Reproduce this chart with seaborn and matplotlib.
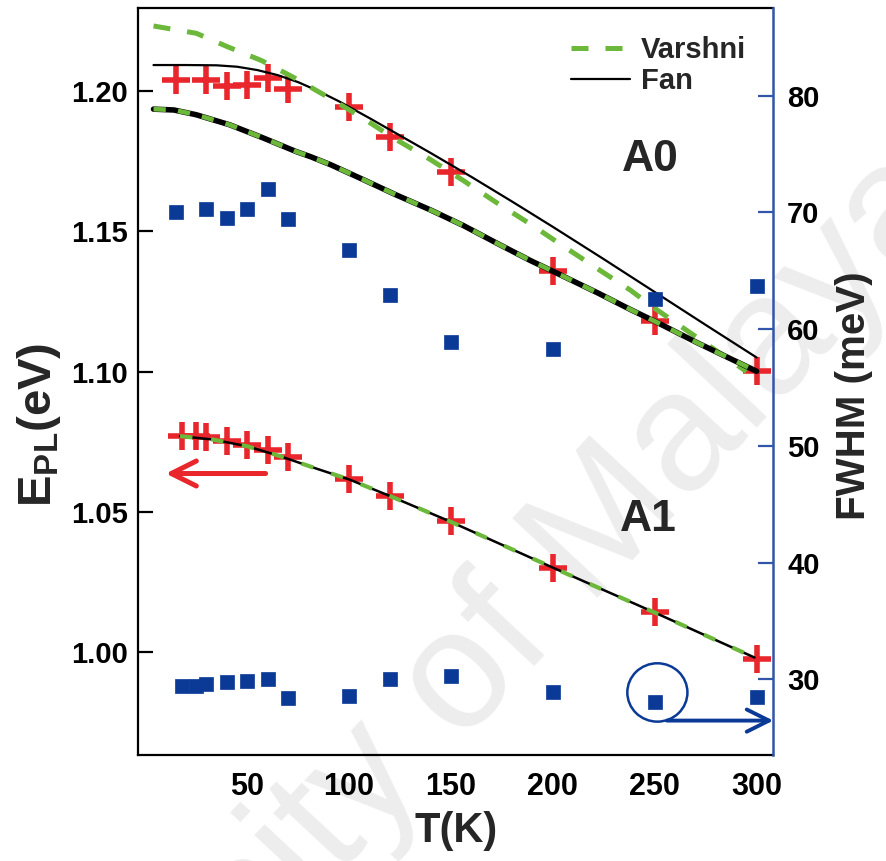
import matplotlib
matplotlib.use("Agg")
import matplotlib.pyplot as plt
import seaborn as sns
from matplotlib.lines import Line2D
from matplotlib.patches import Ellipse

# ---------------- data ----------------
T_A0 = [15, 30, 40, 50, 60, 70, 100, 120, 150, 200, 250, 300]
E_A0 = [1.2038, 1.2038, 1.2017, 1.2020, 1.2044, 1.2005, 1.1941, 1.1836,
        1.1712, 1.1357, 1.1179, 1.1001]
FWHM_A0 = [70.0, 70.3, 69.5, 70.3, 72.0, 69.4, 66.8, 62.9, 58.9, 58.3, 62.6, 63.7]

T_A1 = [18, 25, 30, 40, 50, 60, 70, 100, 120, 150, 200, 250, 300]
E_A1 = [1.0770, 1.0770, 1.0768, 1.0752, 1.0737, 1.0722, 1.0697, 1.0616,
        1.0557, 1.0468, 1.0302, 1.0143, 0.9976]
FWHM_A1 = [29.46, 29.46, 29.61, 29.74, 29.89, 30.03, 28.37, 28.6, 30.03,
           30.3, 28.89, 28.03, 28.46]

# fitted curves
T_fan_A0 = [4, 20, 35, 45, 55, 65, 75, 85, 95, 110, 125, 140, 160, 180, 200,
            225, 250, 275, 300]
E_fan_A0 = [1.2091, 1.2091, 1.2090, 1.2085, 1.2073, 1.2055, 1.2030, 1.1998,
            1.1962, 1.1902, 1.1840, 1.1778, 1.1693, 1.1605, 1.1515, 1.1400,
            1.1283, 1.1166, 1.1050]

T_var_A0 = [4, 25, 40, 57, 73, 90, 105, 123, 140, 156, 172, 190, 205, 220,
            238, 250, 265, 280, 295]
E_var_A0 = [1.2230, 1.2204, 1.2157, 1.2107, 1.2046, 1.1975, 1.1910, 1.1826,
            1.1754, 1.1680, 1.1603, 1.1520, 1.1447, 1.1375, 1.1290, 1.1225,
            1.1150, 1.1075, 1.1000]

T_low_A0 = [4, 14, 25, 41.5, 58, 74, 81, 91, 107, 123, 140, 156, 173, 189,
            200, 222, 238, 250, 271, 300]
E_low_A0 = [1.1934, 1.1931, 1.1914, 1.1878, 1.1831, 1.1783, 1.1765, 1.1736,
            1.1683, 1.1629, 1.1575, 1.1520, 1.1455, 1.1395, 1.1357, 1.1280,
            1.1221, 1.1179, 1.1102, 1.1001]

T_fit_A1 = [17, 33, 50, 66, 82.5, 100, 120, 149, 200, 250, 299]
E_fit_A1 = [1.0770, 1.0758, 1.0734, 1.0699, 1.0658, 1.0616, 1.0557, 1.0468,
            1.0302, 1.0142, 0.9982]

x_ticks = [50, 100, 150, 200, 250, 300]
yl_ticks = [1.00, 1.05, 1.10, 1.15, 1.20]
yr_ticks = [30, 40, 50, 60, 70, 80]

# ---------------- style ----------------
sns.set_theme(style="white")
plt.rcParams['font.family'] = ['Liberation Sans', 'DejaVu Sans']
plt.rcParams['font.weight'] = 'bold'
plt.rcParams['mathtext.fontset'] = 'custom'
plt.rcParams['mathtext.rm'] = 'Liberation Sans:bold'
plt.rcParams['mathtext.bf'] = 'Liberation Sans:bold'
plt.rcParams['mathtext.it'] = 'Liberation Sans:bold'

RED = '#e8262b'
BLUE = '#0b3a96'
SPINE_BLUE = '#3355a8'
GREEN = '#6cb83a'

fig = plt.figure(figsize=(8.86, 8.61), dpi=100)
fig.patch.set_facecolor('white')

# watermark (behind everything)
fig.text(0.462, 0.145, "University of Malaya", fontsize=122, color='#ededed',
         rotation=47, ha='center', va='center', fontweight='normal',
         rotation_mode='anchor', zorder=-5)

ax = fig.add_axes([0.1558, 0.1231, 0.7170, 0.8676])
ax.patch.set_alpha(0)

# red pluses (data)
sns.lineplot(x=T_A0, y=E_A0, ax=ax, estimator=None, sort=False,
             linestyle='none', marker='+', markersize=20, markeredgewidth=4,
             markeredgecolor=RED, color=RED, zorder=2)
sns.lineplot(x=T_A1, y=E_A1, ax=ax, estimator=None, sort=False,
             linestyle='none', marker='+', markersize=20, markeredgewidth=4,
             markeredgecolor=RED, color=RED, zorder=2)

# fit curves
sns.lineplot(x=T_fan_A0, y=E_fan_A0, ax=ax, estimator=None, sort=False,
             color='black', lw=1.6, zorder=3)
sns.lineplot(x=T_var_A0, y=E_var_A0, ax=ax, estimator=None, sort=False,
             color=GREEN, lw=3.6, linestyle=(0, (3.4, 3.4)), zorder=3)
sns.lineplot(x=T_low_A0, y=E_low_A0, ax=ax, estimator=None, sort=False,
             color='black', lw=4, zorder=3)
sns.lineplot(x=T_low_A0, y=E_low_A0, ax=ax, estimator=None, sort=False,
             color=GREEN, lw=3.4, linestyle=(0, (2.6, 2.6)), zorder=3)
sns.lineplot(x=T_fit_A1, y=E_fit_A1, ax=ax, estimator=None, sort=False,
             color='black', lw=1.8, zorder=3)
sns.lineplot(x=T_fit_A1, y=E_fit_A1, ax=ax, estimator=None, sort=False,
             color=GREEN, lw=3.0, linestyle=(0, (3.0, 4.5)), zorder=3)

ax.set_xlim(-3.6, 308.2)
ax.set_ylim(0.9635, 1.2294)
ax.set_xticks(x_ticks)
ax.set_xticklabels([str(v) for v in x_ticks])
ax.set_yticks(yl_ticks)
ax.set_yticklabels([f"{v:.2f}" for v in yl_ticks])
ax.tick_params(axis='both', direction='in', length=11, width=1.6, colors='black')
ax.tick_params(axis='x', labelsize=22, pad=12)
ax.tick_params(axis='y', labelsize=21, pad=7)
for s in ['left', 'top', 'bottom']:
    ax.spines[s].set_color('black')
    ax.spines[s].set_linewidth(1.6)
ax.spines['right'].set_visible(False)

ax.set_xlabel("T(K)", fontsize=30, fontweight='bold', labelpad=7)
ax.set_ylabel(r"E$_{\mathbf{PL}}$(eV)", fontsize=34, fontweight='bold')
ax.yaxis.set_label_coords(-0.118, 0.442)

# legend
handles = [Line2D([], [], color=GREEN, lw=3.6, linestyle=(0, (3.4, 3.4))),
           Line2D([], [], color='black', lw=1.6)]
leg = ax.legend(handles, ["Varshni", "Fan"], loc='upper right',
                bbox_to_anchor=(0.99, 0.99), frameon=False, fontsize=21,
                handlelength=2.0, handletextpad=0.4, labelspacing=0.1,
                borderpad=0.2)
for t in leg.get_texts():
    t.set_fontweight('bold')

ax.text(0.806, 0.797, "A0", transform=ax.transAxes, fontsize=32,
        fontweight='bold', ha='center', va='center')
ax.text(0.804, 0.315, "A1", transform=ax.transAxes, fontsize=32,
        fontweight='bold', ha='center', va='center')

# red arrow to the left axis
ax.annotate('', xy=(10, 1.0637), xytext=(59, 1.0637),
            arrowprops=dict(arrowstyle='->,head_length=0.9,head_width=0.45',
                            color=RED, lw=3.6, mutation_scale=20,
                            shrinkA=0, shrinkB=0))

# right axis: FWHM
ax2 = ax.twinx()
ax2.patch.set_alpha(0)
sns.lineplot(x=T_A0, y=FWHM_A0, ax=ax2, estimator=None, sort=False,
             linestyle='none', marker='s', markersize=10.5, color=BLUE,
             markeredgecolor=BLUE, markeredgewidth=0.5)
sns.lineplot(x=T_A1, y=FWHM_A1, ax=ax2, estimator=None, sort=False,
             linestyle='none', marker='s', markersize=10.5, color=BLUE,
             markeredgecolor=BLUE, markeredgewidth=0.5)
ax2.set_ylim(23.51, 87.52)
ax2.set_yticks(yr_ticks)
ax2.set_yticklabels([str(v) for v in yr_ticks])
ax2.tick_params(axis='y', direction='in', length=11, width=1.6,
                color=SPINE_BLUE, labelcolor='black', labelsize=21, pad=10)
for s in ['left', 'top', 'bottom']:
    ax2.spines[s].set_visible(False)
ax2.spines['right'].set_color(SPINE_BLUE)
ax2.spines['right'].set_linewidth(1.8)
ax2.set_ylabel("FWHM (meV)", fontsize=29, fontweight='bold')
ax2.yaxis.set_label_coords(1.097, 0.481)

# circle and arrow to right axis
ax2.add_patch(Ellipse((251.3, 28.87), width=29.5, height=5.0, fill=False,
                      edgecolor=BLUE, lw=1.8))
ax2.annotate('', xy=(308.2, 26.46), xytext=(256, 26.46),
             arrowprops=dict(arrowstyle='->,head_length=0.8,head_width=0.4',
                             color=BLUE, lw=2.8, mutation_scale=20,
                             shrinkA=0, shrinkB=0))

fig.savefig("out.png", dpi=100)
